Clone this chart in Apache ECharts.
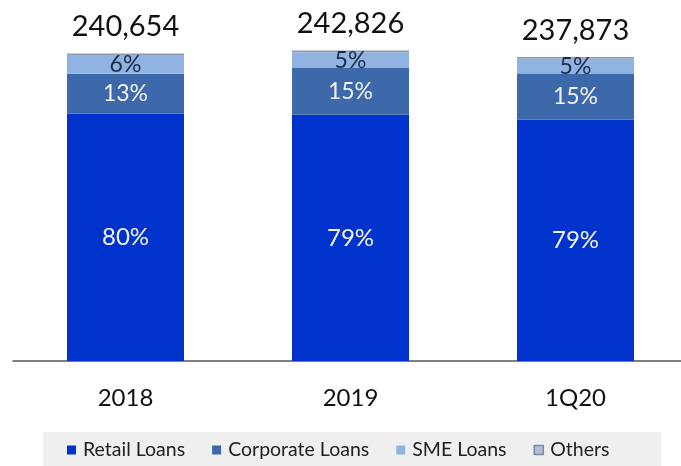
<!DOCTYPE html>
<html>
<head>
<meta charset="utf-8">
<script src="https://cdn.jsdelivr.net/npm/echarts@6/dist/echarts.min.js"></script>
<style>
  html, body { margin: 0; padding: 0; background: #ffffff; }
  #chart { width: 681px; height: 466px; }
</style>
</head>
<body>
<div id="chart"></div>
<script>
// Loan book composition by period
const categories = ['2018', '2019', '1Q20'];
const totals = [240654, 242826, 237873];
const retailPct = [80, 79, 79];
const corporatePct = [13, 15, 15];
const smePct = [6, 5, 5];
const othersPct = [0.5, 0.6, 0.5];

const share = (pcts) => pcts.map((p, i) => totals[i] * p / 100);

const FONT = 'Lato, "Open Sans", sans-serif';

const chart = echarts.init(document.getElementById('chart'));

function pctLabel(pcts, color, size) {
  return {
    show: true,
    position: 'inside',
    color: color,
    fontFamily: FONT,
    fontSize: size,
    formatter: (p) => pcts[p.dataIndex] + '%'
  };
}

chart.setOption({
  animation: false,
  grid: { left: 13, right: -7, top: 40, bottom: 105, outerBoundsMode: 'none', containLabel: false },
  legend: {
    bottom: 0,
    left: 43,
    backgroundColor: '#efefef',
    padding: [8, 52, 6, 24],
    itemWidth: 9,
    itemHeight: 9,
    itemGap: 27,
    icon: 'rect',
    textStyle: { fontFamily: FONT, fontSize: 19.5, color: '#222222', padding: [0, 0, 0, 2] },
    data: [
      { name: 'Retail Loans' },
      { name: 'Corporate Loans' },
      { name: 'SME Loans' },
      { name: 'Others', itemStyle: { color: '#aebfdc', borderColor: '#7b8aa3', borderWidth: 1.5 } }
    ]
  },
  xAxis: {
    type: 'category',
    data: categories,
    axisLine: { lineStyle: { color: '#555555', width: 1.5 } },
    axisTick: { show: false },
    axisLabel: { fontFamily: FONT, fontSize: 24, color: '#111111', margin: 25 }
  },
  yAxis: {
    type: 'value',
    min: 0,
    max: 250000,
    show: false,
    splitLine: { show: false }
  },
  series: [
    {
      name: 'Retail Loans', type: 'bar', stack: 'loans', barWidth: '52%',
      itemStyle: { color: '#0033cc' },
      label: pctLabel(retailPct, '#f2f2f2', 24),
      data: share(retailPct)
    },
    {
      name: 'Corporate Loans', type: 'bar', stack: 'loans',
      itemStyle: { color: '#3d68aa' },
      label: pctLabel(corporatePct, '#f2f2f2', 23),
      data: share(corporatePct)
    },
    {
      name: 'SME Loans', type: 'bar', stack: 'loans',
      itemStyle: { color: '#90b3e2' },
      label: pctLabel(smePct, '#1c2a48', 23),
      data: share(smePct)
    },
    {
      name: 'Others', type: 'bar', stack: 'loans',
      itemStyle: { color: '#8e9cb2' },
      label: {
        show: true,
        position: 'top',
        distance: 12,
        color: '#111111',
        fontFamily: FONT,
        fontSize: 29,
        formatter: (p) => totals[p.dataIndex].toLocaleString('en-US')
      },
      data: share(othersPct)
    }
  ]
});
</script>
</body>
</html>
